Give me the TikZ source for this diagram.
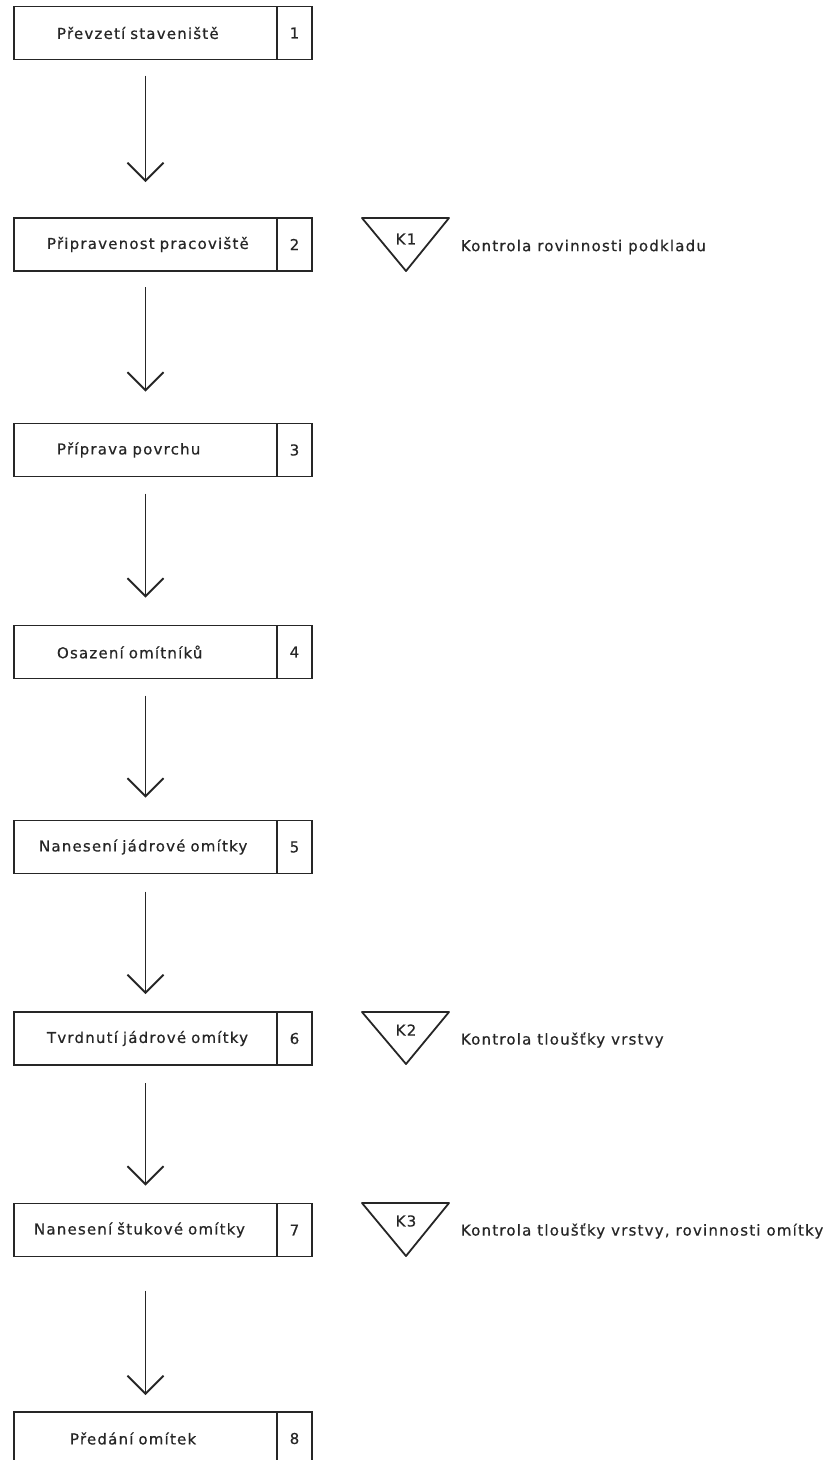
\documentclass[tikz,border=0pt]{standalone}
\usepackage{fontspec}
\setmainfont{DejaVu Sans}[LetterSpace=8, FakeBold=0.6]
\newfontfamily\boxfont{DejaVu Sans}[LetterSpace=8, WordSpace=1.6, FakeBold=0.6]
\usetikzlibrary{arrows.meta}
\begin{document}
\begin{tikzpicture}[x=1pt,y=-1pt,
  line width=1.8pt, draw=black!85,
  every node/.style={font=\fontsize{15}{18}\selectfont, text=black!85},
  stepbox/.style={draw, line width=1.8pt, outer sep=0pt, minimum width=263pt, minimum height=53pt, inner sep=0pt, text width=263pt, align=left, font=\fontsize{15}{18}\boxfont},
  numbox/.style={draw, line width=1.8pt, outer sep=0pt, minimum width=35pt, minimum height=53pt, inner sep=0pt, anchor=west},
  arr/.style={-{Straight Barb[length=18pt,width=36pt]}, line width=1.8pt},
  tri/.style={line width=1.8pt, line join=round},
  klab/.style={inner sep=0pt},
  ktext/.style={anchor=west, inner sep=0pt}
]
\useasboundingbox (0,0) rectangle (838,1460);
% boxes
\node[stepbox] (b1) at (145.5,33) {\hspace*{43pt}Převzetí staveniště};
\node[numbox] (n1) at (b1.east) {1};
\node[stepbox] (b2) at (145.5,244.5) {\hspace*{33pt}Připravenost pracoviště};
\node[numbox] (n2) at (b2.east) {2};
\node[stepbox] (b3) at (145.5,450) {\hspace*{43pt}Příprava povrchu};
\node[numbox] (n3) at (b3.east) {3};
\node[stepbox] (b4) at (145.5,652) {\hspace*{43pt}Osazení omítníků};
\node[numbox] (n4) at (b4.east) {4};
\node[stepbox] (b5) at (145.5,847) {\hspace*{25pt}Nanesení jádrové omítky};
\node[numbox] (n5) at (b5.east) {5};
\node[stepbox] (b6) at (145.5,1038.5) {\hspace*{33pt}Tvrdnutí jádrové omítky};
\node[numbox] (n6) at (b6.east) {6};
\node[stepbox] (b7) at (145.5,1230) {\hspace*{20pt}Nanesení štukové omítky};
\node[numbox] (n7) at (b7.east) {7};
\node[stepbox] (b8) at (145.5,1438.5) {\hspace*{56pt}Předání omítek};
\node[numbox] (n8) at (b8.east) {8};
% arrows
\draw[arr, shorten <=16pt, shorten >=36pt] (b1.south) -- (b2.north);
\draw[arr, shorten <=16pt, shorten >=32pt] (b2.south) -- (b3.north);
\draw[arr, shorten <=17pt, shorten >=28pt] (b3.south) -- (b4.north);
\draw[arr, shorten <=17pt, shorten >=23pt] (b4.south) -- (b5.north);
\draw[arr, shorten <=18pt, shorten >=18pt] (b5.south) -- (b6.north);
\draw[arr, shorten <=18pt, shorten >=18pt] (b6.south) -- (b7.north);
\draw[arr, shorten <=34pt, shorten >=17pt] (b7.south) -- (b8.north);
% control triangles
\draw[tri] (362,218) -- (449,218) -- (406,271) -- cycle;
\node[klab] (k1) at (406,239) {K1};
\node[ktext] (c1) at (460,247) {Kontrola rovinnosti podkladu};
\draw[tri] (362,1012) -- (449,1012) -- (406,1064) -- cycle;
\node[klab] (k2) at (406,1030) {K2};
\node[ktext] (c2) at (460,1040) {Kontrola tloušťky vrstvy};
\draw[tri] (362,1203) -- (449,1203) -- (406,1256) -- cycle;
\node[klab] (k3) at (406,1221) {K3};
\node[ktext] (c3) at (460,1231) {Kontrola tloušťky vrstvy, rovinnosti omítky};
\end{tikzpicture}
\end{document}
